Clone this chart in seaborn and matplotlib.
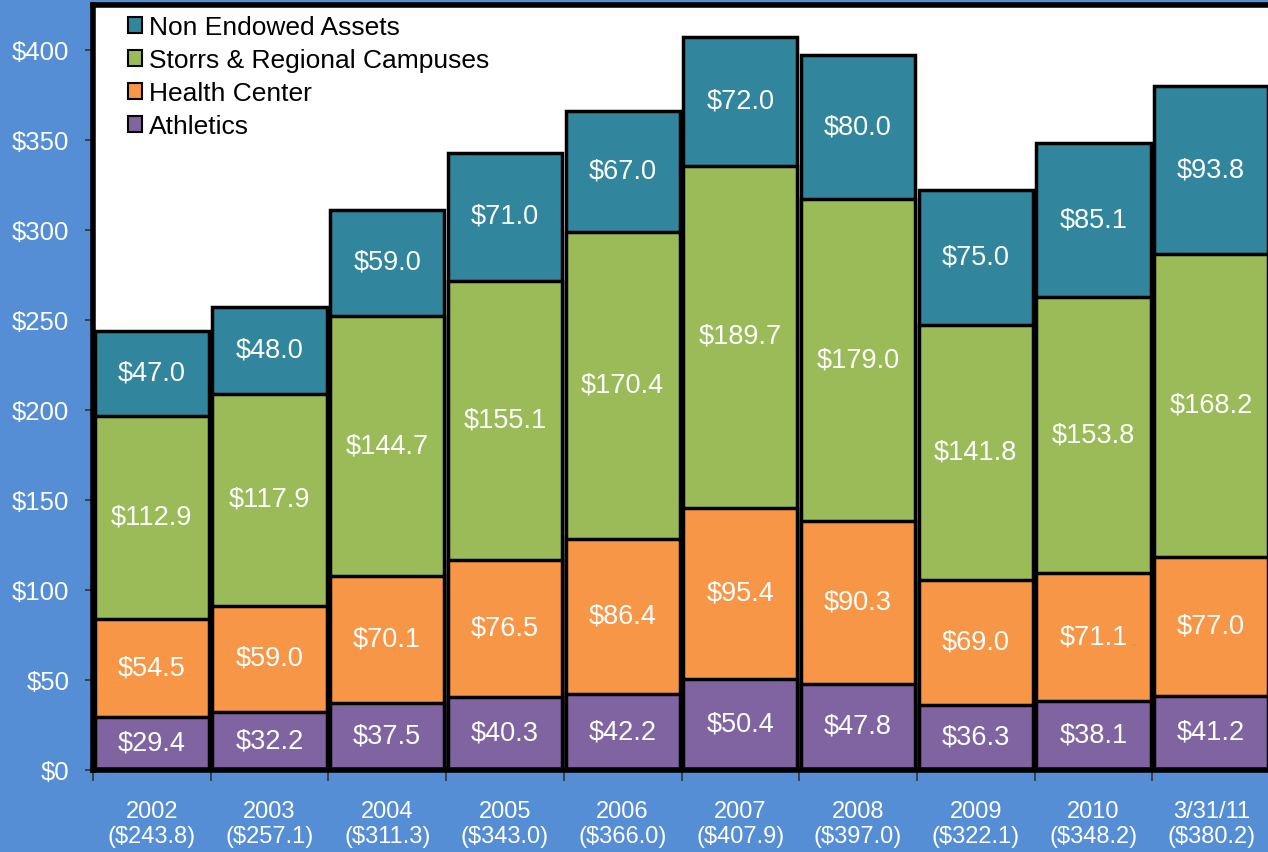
import numpy as np
import pandas as pd
import seaborn as sns
import matplotlib.pyplot as plt
from matplotlib.patches import Patch

# ---------------------- Data ------------------------
years = ["2002", "2003", "2004", "2005", "2006", "2007", "2008", "2009", "2010", "3/31/11"]
totals = ["$243.8", "$257.1", "$311.3", "$343.0", "$366.0", "$407.9", "$397.0", "$322.1", "$348.2", "$380.2"]

athletics = [29.4, 32.2, 37.5, 40.3, 42.2, 50.4, 47.8, 36.3, 38.1, 41.2]
health_center = [54.5, 59.0, 70.1, 76.5, 86.4, 95.4, 90.3, 69.0, 71.1, 77.0]
storrs = [112.9, 117.9, 144.7, 155.1, 170.4, 189.7, 179.0, 141.8, 153.8, 168.2]
non_endowed = [47.0, 48.0, 59.0, 71.0, 67.0, 72.0, 80.0, 75.0, 85.1, 93.8]

series_names = ["Athletics", "Health Center", "Storrs & Regional Campuses", "Non Endowed Assets"]
series_colors = ["#8064A2", "#F79646", "#9BBB59", "#31859C"]

# ---------------------- Style ------------------------
sns.set_style("white")
plt.rcParams["font.family"] = ["Liberation Sans", "DejaVu Sans"]

BG = "#558ED5"
fig = plt.figure(figsize=(12.68, 8.52), dpi=100)
fig.patch.set_facecolor(BG)
ax = fig.add_axes([93 / 1268, 1 - 770 / 852, 1177 / 1268, 765 / 852])
ax.set_facecolor("white")

x_labels = [f"{y}\n({t})" for y, t in zip(years, totals)]
layers = [athletics, health_center, storrs, non_endowed]
df = pd.DataFrame({"label": x_labels})
cum = np.zeros(len(years))
cum_layers = []
for vals in layers:
    bottoms = cum.copy()
    cum = cum + np.array(vals)
    cum_layers.append((bottoms, cum.copy(), vals))

# draw tallest first so lower layers sit on top
for (bottoms, tops, vals), color in reversed(list(zip(cum_layers, series_colors))):
    df["top"] = tops
    sns.barplot(data=df, x="label", y="top", color=color, saturation=1,
                width=0.97, edgecolor="black", linewidth=2.5, errorbar=None, ax=ax)

for bottoms, tops, vals in cum_layers:
    for i, v in enumerate(vals):
        ax.text(i, bottoms[i] + v / 2, f"${v:.1f}", ha="center", va="center",
                color="white", fontsize=19.5)

ax.set_xlim(-0.5, len(years) - 0.5)
ax.set_ylim(0, 425)
ax.set_yticks(np.arange(0, 401, 50))
ax.set_yticklabels([f"${v}" for v in range(0, 401, 50)])
ax.set_xlabel("")
ax.set_ylabel("")

ax.tick_params(axis="y", colors="white", labelsize=18.5, length=6, width=1.2,
               direction="out", left=True, pad=11)
ax.tick_params(axis="y", which="major", color="#333333")
ax.tick_params(axis="x", colors="white", labelsize=17, length=0, pad=22)
ax.set_xticks(np.arange(-0.5, len(years) - 0.4, 1), minor=True)
ax.tick_params(axis="x", which="minor", length=8, width=1.2, color="#333333", bottom=True)
for lbl in ax.get_xticklabels():
    lbl.set_linespacing(1.2)

for side in ["left", "bottom", "top"]:
    ax.spines[side].set_color("black")
    ax.spines[side].set_linewidth(4)
ax.spines["right"].set_visible(False)

handles = [Patch(facecolor=c, edgecolor="black", linewidth=1.5, label=n)
           for n, c in zip(series_names, series_colors)]
leg = ax.legend(handles=handles[::-1], loc="upper left", bbox_to_anchor=(0.025, 0.993),
                frameon=False, fontsize=19, handlelength=0.55, handleheight=0.55,
                handletextpad=0.25, labelspacing=0.34, borderaxespad=0, borderpad=0.2)
for t in leg.get_texts():
    t.set_color("black")

fig.savefig("out.png", dpi=100, facecolor=BG)
